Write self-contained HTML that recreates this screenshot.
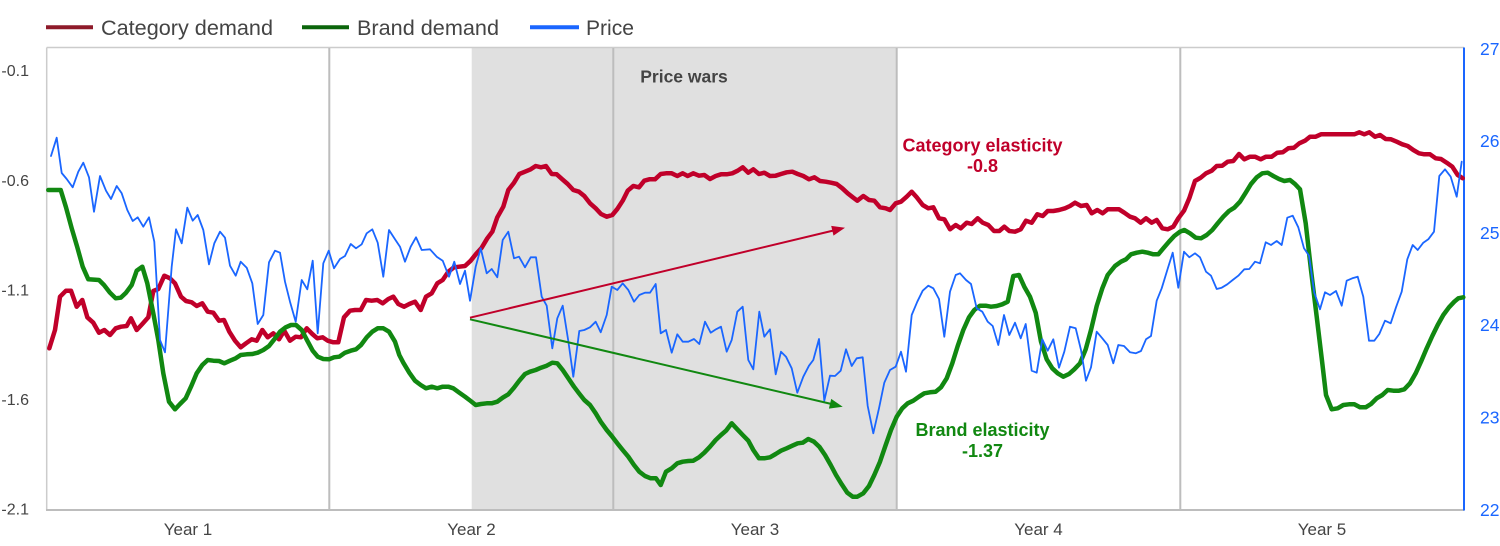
<!DOCTYPE html>
<html>
<head>
<meta charset="utf-8">
<style>
html,body{margin:0;padding:0;background:#fff;}
svg{display:block;}
text{font-family:"Liberation Sans",Arial,sans-serif;}
</style>
</head>
<body>
<svg width="1500" height="546" viewBox="0 0 1500 546" xmlns="http://www.w3.org/2000/svg">
<rect x="0" y="0" width="1500" height="546" fill="#fff"/>
<!-- shaded price wars region -->
<rect x="471.7" y="47.5" width="425" height="462" fill="#e0e0e0"/>
<!-- plot border -->
<line x1="46.7" y1="47.5" x2="1464" y2="47.5" stroke="#cccccc" stroke-width="1.5"/>
<line x1="46.7" y1="47.5" x2="46.7" y2="510" stroke="#cccccc" stroke-width="1.5"/>
<!-- vertical grid -->
<line x1="329.3" y1="48" x2="329.3" y2="510" stroke="#bdbdbd" stroke-width="2"/>
<line x1="613.3" y1="48" x2="613.3" y2="510" stroke="#bdbdbd" stroke-width="2"/>
<line x1="896.7" y1="48" x2="896.7" y2="510" stroke="#bdbdbd" stroke-width="2"/>
<line x1="1180.3" y1="48" x2="1180.3" y2="510" stroke="#bdbdbd" stroke-width="2"/>
<!-- bottom axis -->
<line x1="46" y1="510" x2="1464" y2="510" stroke="#bdbdbd" stroke-width="2"/>
<!-- right blue axis -->
<line x1="1464" y1="47.5" x2="1464" y2="510.5" stroke="#1a66ff" stroke-width="2"/>

<!-- Legend -->
<line x1="46" y1="27.3" x2="93" y2="27.3" stroke="#8e1a2a" stroke-width="4"/>
<text x="101" y="35" font-size="21" fill="#444" textLength="172" lengthAdjust="spacingAndGlyphs">Category demand</text>
<line x1="302" y1="27.3" x2="349" y2="27.3" stroke="#0b650b" stroke-width="4"/>
<text x="357" y="35" font-size="21" fill="#444" textLength="142" lengthAdjust="spacingAndGlyphs">Brand demand</text>
<line x1="530" y1="27.3" x2="579" y2="27.3" stroke="#1a66ff" stroke-width="4"/>
<text x="586" y="35" font-size="21" fill="#444" textLength="48" lengthAdjust="spacingAndGlyphs">Price</text>

<!-- Left axis labels -->
<g font-size="16" fill="#444" text-anchor="end">
<text x="29" y="75.8">-0.1</text>
<text x="29" y="185.8">-0.6</text>
<text x="29" y="295.3">-1.1</text>
<text x="29" y="405">-1.6</text>
<text x="29" y="514.7">-2.1</text>
</g>
<!-- Right axis labels -->
<g font-size="17.5" fill="#1a66ff">
<text x="1480" y="55">27</text>
<text x="1480" y="147">26</text>
<text x="1480" y="239">25</text>
<text x="1480" y="331">24</text>
<text x="1480" y="423.5">23</text>
<text x="1480" y="516">22</text>
</g>
<!-- Year labels -->
<g font-size="17" fill="#444" text-anchor="middle">
<text x="188" y="535">Year 1</text>
<text x="471.5" y="535">Year 2</text>
<text x="755" y="535">Year 3</text>
<text x="1038.5" y="535">Year 4</text>
<text x="1322" y="535">Year 5</text>
</g>

<text x="684" y="82.7" font-size="17.5" font-weight="bold" fill="#444" text-anchor="middle">Price wars</text>

<!-- Category demand -->
<polyline fill="none" stroke="#c0002a" stroke-width="4.5" stroke-linejoin="round" stroke-linecap="round" points="49.3,348.3 55,330 60,296.7 66,290.7 71,290.7 76.7,306.7 82.3,300 87.3,317.3 93.3,322.7 99,332.7 104.3,330 110,335 115.7,328.3 121,326.7 126.7,326 131,318.3 136.7,330 142.3,324 148.3,317.3 153.3,291 158.3,289 164.3,275.7 170,278.3 175,283.3 181,296.7 186,301 191.7,302.3 196.7,306 202.3,303.3 207.7,311.7 213.3,312.7 219,320.7 224,320 229.3,331.7 235,340.7 240.7,347.3 246,343.3 251.7,339.3 256.7,340.7 262.3,330 267.7,337.3 273.3,333.3 279,339.3 284.3,330.7 290,340.7 295.7,336.7 301,337.3 306.7,328.3 312.3,334 317.3,338.3 322.7,337.3 327.7,340.7 333.3,342.3 338.3,342.3 344,317.3 350,310.7 355,310 360.7,310 366,300 371.7,300.7 377.3,300 382.7,303.3 388.3,299 393.3,296.7 398.3,304 404,306.7 409.3,304 415,301.7 420.7,310 426,296.7 431.7,293.3 437.3,283.3 442.7,280 448.3,271.7 454,267.3 459.3,266.7 465,266 470.7,260.7 476,254 481.7,247.7 487.3,238.3 492.3,231.7 497.3,217.3 503.3,206.7 508.3,190 514,182.7 519.3,174 525,171.7 530.7,169.3 535.7,166 541,167.3 546,166 551.7,174 556.7,174.3 562.3,179.3 567.7,184 573.3,190 579,191.7 584.3,196 590,203.3 595.7,208.3 601,214 606.7,216.7 612.3,215 617.3,209 622.7,200.7 627.7,190.7 633.3,186 639,187.3 644.3,180.7 649.3,179.3 655,179.3 660.7,174 666,173.3 671.7,173.3 677.3,176 682.7,173.3 687.7,176 693.3,173.3 699,175.7 704.3,175 710,179 715.7,176 721,174.3 726.7,174.3 732.3,173.3 737.7,170.7 742.7,167.3 748.3,172.7 753.3,169.3 759,174 764.3,172.7 770,176 775.7,175.7 781,174 786.7,172.3 792.3,171.7 797.7,174 803.3,176 809,179.3 814.3,177.3 820,181 825.7,181.7 831,182.7 836.7,184 842.3,188.3 847.7,193.3 853.3,197.7 857.3,200.7 863.3,196 869,200 874.3,200.7 880,207.3 885.7,208.3 890,210 895.7,203.3 901,201.7 906.7,196.7 911.7,191.7 916.7,197.3 922.7,205 928.3,208.3 933.3,207.3 939,218.3 944.3,219.3 950,229.3 955.7,225 960.7,228.3 966.7,222.7 971.7,224 977.7,218.3 982.7,222.7 988.3,225 994,231 999.3,231 1004.3,226.7 1009.3,231 1015,231.7 1020.7,229.3 1026,220.7 1031.7,222.7 1037.3,214.3 1042.7,216 1047.7,211 1053.3,211 1059,210 1065,208.3 1070,206 1075,202.7 1081,206 1086.7,205 1091.7,213.3 1097.3,210 1102.7,213.3 1107.7,209.3 1119,209.3 1124.3,212.7 1130,216.7 1135,218.3 1140.7,222.7 1146,218.3 1151.7,222.7 1156.7,220 1162.3,228.3 1167.7,229.3 1173.3,226.7 1178.3,218.3 1184,210.7 1189.3,198.3 1195,181 1200.7,177.7 1206,173.3 1211.7,170.7 1216.7,166 1222.3,165.7 1227.7,161.7 1233.3,161 1239,154 1244.3,159.3 1250,156.7 1255,156.7 1260.7,159.3 1266,156.7 1271.7,156.7 1277.3,152.7 1282.7,152.3 1288.3,148.3 1294,147.7 1299.3,143.3 1305,140.7 1310,136.7 1315.7,136.7 1321,134.3 1354.3,134.3 1359.3,132.3 1364.3,134.3 1369.3,132.3 1375,136.7 1380,135 1385.7,139 1391,139.3 1396.7,141.7 1402.3,144.3 1407.7,146 1413.3,150 1419,153.3 1424.3,154.3 1430,154.3 1435.7,158.3 1441,159 1446.7,162.7 1452.3,166.7 1457.7,175 1462.7,178.3"/>

<!-- Brand demand -->
<polyline fill="none" stroke="#118811" stroke-width="4.5" stroke-linejoin="round" stroke-linecap="round" points="48.3,190 60.7,190 66,207.3 71.7,228.3 77.3,247.3 82.7,266.7 88.3,279.3 99,280 104,285 110,292.7 115.7,298.3 120.7,297.7 126,292.7 131.7,285 136.7,270.7 142.3,266.7 147.3,283.3 153.3,313.3 158.3,340 163.3,373.3 169,401.7 175,409.3 180,404 185.7,398.3 191,386.7 196.7,373.3 202.3,365 207.7,360 213.3,360.7 219,361 224.3,363.3 230,360.7 235.7,358.3 240.7,355 246.7,354.3 252.3,354 257.7,352.7 263.3,350 269,346 274.3,339.3 280,331.7 285.7,327.3 291,325 296,325 301.7,330 307.3,340.7 312.7,350.7 317.7,356.7 323.3,359 329,359.3 334,357.3 339.3,356.7 345,352.7 350.7,350.7 356,349.3 361,345 366.7,337.3 372.3,331.7 377.7,328.3 383.3,328.3 389,331.7 395,341.7 399.3,355 403.3,362.7 409.3,372.7 415,380.7 420.7,385 426,388.3 431.7,386.7 437.3,388.3 442.7,386.7 448.3,386.7 453.3,388.3 459.3,392.7 465,396.7 470.7,401 475.7,405 481,404 486.7,403.3 491.7,403.3 497.3,401.7 502.7,397.7 508.3,394.3 514,387.7 519.3,380.7 525,374 530,371.7 535.7,370 541,367.7 546.7,365.7 552.3,362.7 557.3,363.3 562.7,370 568.3,378.3 574,386.7 579,393.3 584.3,400 590,405 595.7,413.3 600.7,421.7 606.7,430 611.7,436 617.3,443.3 622.7,450 628.3,456.7 634,465 639.3,471.7 645,476 650.7,478.3 656,478.3 660.7,485 666,471.7 671.7,468.3 677.3,463.3 682.7,461.7 688.3,461 693.3,460.7 699,457.3 704.3,452.7 710,446.7 715.7,440 721,435 726,430.7 731.7,423.3 737.3,429.3 742.7,435 748.3,440.7 753.3,450 759,458.3 764.3,458.3 770,457.3 775.7,454 781,450.7 786.7,448.3 792.3,445.7 797.7,443.3 802.7,442.7 808.3,439 814,441.7 819.3,446.7 825,455 830.7,465 836,475 841.7,484.3 847.3,492.7 852.7,496.7 857.3,496.7 863.3,493.3 869,486 874.3,475 880,461.7 885.7,445 891,430 896.7,416.7 902.3,408.3 907.7,403.3 913.3,400.7 919,396.7 924.3,393.3 930,392.3 935.7,391.7 941,387.3 946.7,378.3 952.3,363.3 957.7,346 963.3,330 969,317.3 974.3,310 980,305.7 985.7,305.7 991,306.7 996.7,306 1002.3,304.3 1007.7,301.7 1013.3,276 1019,275 1024.3,286.7 1030,296.7 1035.7,312.7 1041,341.7 1046.7,359.3 1052.3,368.3 1057.7,373.3 1063.3,376.7 1069,374 1074.3,369.3 1080,363.3 1085.7,349.3 1091,330 1096.7,306 1102.3,288.3 1107.7,275 1115,266 1121,261.7 1126,259.3 1131,254.3 1136.7,252.7 1142.3,251.7 1147.7,252.7 1153.3,254.3 1158.3,254.3 1163.3,248.3 1169,241.7 1174.3,236 1180,231.7 1184.3,230 1190,233.3 1195.7,237.7 1201,238.3 1206.7,235 1212.3,230 1217.7,223.3 1223.3,216.7 1229,211 1234.3,207.7 1240,201.7 1245.7,192.7 1251,184 1256.7,177.3 1262.3,173.3 1267.7,172.7 1273.3,176 1279,179 1284.3,181 1290,180 1295,184 1300,189.3 1305.7,223.3 1311,270 1316.7,316.7 1322.3,363.3 1326,395 1331.7,409.3 1337.7,408.3 1343.3,405 1349,404.3 1354.3,404.3 1360,407.3 1365.7,407.3 1371,404 1376.7,398.3 1382.3,395 1387.7,390 1393.3,390.7 1399,390.7 1404.3,389.3 1410,383.3 1415.7,373.3 1421,361.7 1426.7,348.3 1432.3,336 1437.7,325 1443.3,315 1449,307.3 1454.3,301.7 1458.3,298.3 1463.3,297.3"/>

<!-- Price -->
<polyline fill="none" stroke="#1a66ff" stroke-width="1.8" stroke-linejoin="round" stroke-linecap="round" points="51,156 56.7,137.7 61.7,173 66.7,179 72.7,187.3 78.3,171.7 83.3,162.7 89,177.3 94,211.7 100,176 106,190.7 111,199 116.7,186 121.7,193.3 127.3,210 132.7,221 137.7,217.3 143.3,226.7 149,217.3 154.3,241.7 160,340 165,352.3 171.7,266.7 176,229.3 181.7,243.3 187.3,207.7 192.7,220.7 197.7,215 203.3,230 209,264.3 214.3,243.3 220,231.7 225,237.7 230,265.7 235.7,275.7 240.7,261.7 246.7,267.7 252.3,283.3 257.7,324 263.3,315 269,262.3 275,250.7 280,252.7 285,281.7 290,301.7 295.7,321.7 301.7,280 307.3,289.3 312.7,260.7 317.7,333.3 323.3,263.3 328.7,250.7 334,268.3 340,259 345,256 350.7,244 356,248.3 361.7,244.3 366.7,233.3 372.3,229.3 377.7,242.7 383.3,276.7 389,230 395,239.3 400,246.7 405,261.7 410.7,246.7 416,237.3 421.7,250 430,249.3 436.7,256.7 442.7,260.7 449,276.7 454.3,261.7 460,284 465,270.7 470,300.7 475.7,266.7 480.7,248.3 486.7,273.3 491.7,269 497.3,277.3 502.7,240 508.3,231.7 514,258.3 519,256.7 525,267.3 530.7,257.3 536,257.3 541.7,296.7 546.7,305.7 552.3,348.3 557.3,318.3 562.7,305.7 568.3,341 573.3,376.7 579.3,331 584.3,330 590,327.3 595.7,321.7 600.7,332.3 606.7,315 611.7,286.7 617.3,290 622.7,283.3 628.3,290 634,301.7 639.3,295 645,292.7 650,292.7 655.7,284 660.7,333.3 666,330 671.7,352.7 677.3,334.3 682.7,341.7 688.3,341.7 694,339 699.3,344 705,321.7 710.7,332.7 716,329.3 721,326.7 726.7,351.7 731.7,340 737.3,311.7 742.7,306.7 748.3,360 753.3,369.3 759.3,311.7 764.3,336.7 770,329.3 775.7,374.3 781,351.7 786,356.7 791.7,368.3 797.3,392.7 803.3,376.7 809,365.7 813.3,360 819,339 824.3,400.7 830,375.7 835,376 840.7,370.7 846,349.3 851.7,366 856.7,358.3 862.7,357.3 867.7,406 873.3,433.3 879,408.3 884.3,382.7 890,370 895.7,366.7 901,351.7 906,371.7 911.7,315 917.3,301.7 922.7,290.7 928.3,285.7 933.3,288.3 939,299 944.3,336.7 950,291.7 955.7,275 960,273.3 966,280 971,284 976.7,308.3 982.3,311.7 987.7,321.7 992.7,326 998.3,345 1004,315 1009.3,335 1015,322.7 1020.7,338.3 1025.7,324 1031.7,370.7 1036.7,372.7 1042.3,339.3 1047.7,350.7 1053.3,339.3 1059,367.7 1064.3,351.7 1070,326.7 1075.7,328.3 1081,350 1086,380.7 1091,367.3 1096.7,331.7 1102.3,338.3 1107.7,345 1113.3,363.3 1118.3,345 1124,346 1130,352.3 1135.7,353.3 1141,351 1146,339.3 1151,336 1156.7,300.7 1161.7,288.3 1167.3,270 1172.7,252.7 1178.3,287.7 1184,251.7 1189.3,257.3 1195,253.3 1200,257.3 1206,271.7 1211,275.7 1216.7,289 1221.7,287.7 1227.3,284.3 1232.7,280 1238.3,275.7 1244.3,269.3 1249.3,269 1255,261.7 1260,263.3 1265.7,242.3 1271,245 1276.7,241 1281.7,245 1287.3,217.7 1292.7,215.7 1298.3,227.3 1304,248.3 1309,255.7 1314.3,292.7 1320,309.3 1325,292.3 1330,295 1336,291 1341.7,305.7 1346.7,280.7 1352.3,278.3 1357.7,276.7 1363.3,296.7 1369,340.7 1374.3,340.7 1379.3,334 1385,320.7 1390.7,323.3 1396,307.3 1401.7,291.7 1407.3,259.3 1412.7,245 1417.7,250 1423.3,242.7 1428.3,239.3 1434,231.7 1439.3,176 1445,169.3 1450.7,176.7 1456.7,196.7 1461.7,161.7"/>

<!-- Arrows -->
<line x1="470" y1="317.7" x2="833" y2="230.6" stroke="#c0002a" stroke-width="2"/>
<polygon points="845,227.7 833.5,235.6 831.2,225.9" fill="#c0002a"/>
<line x1="470" y1="319.3" x2="831" y2="403.9" stroke="#118811" stroke-width="2"/>
<polygon points="842.7,406.7 828.9,408.6 831.2,398.9" fill="#118811"/>

<!-- Annotations -->
<g font-size="18" font-weight="bold" text-anchor="middle">
<text x="982.5" y="151.7" fill="#c0002a">Category elasticity</text>
<text x="982.5" y="172" fill="#c0002a">-0.8</text>
<text x="982.5" y="436" fill="#118811">Brand elasticity</text>
<text x="982.5" y="457" fill="#118811">-1.37</text>
</g>
</svg>
</body>
</html>
